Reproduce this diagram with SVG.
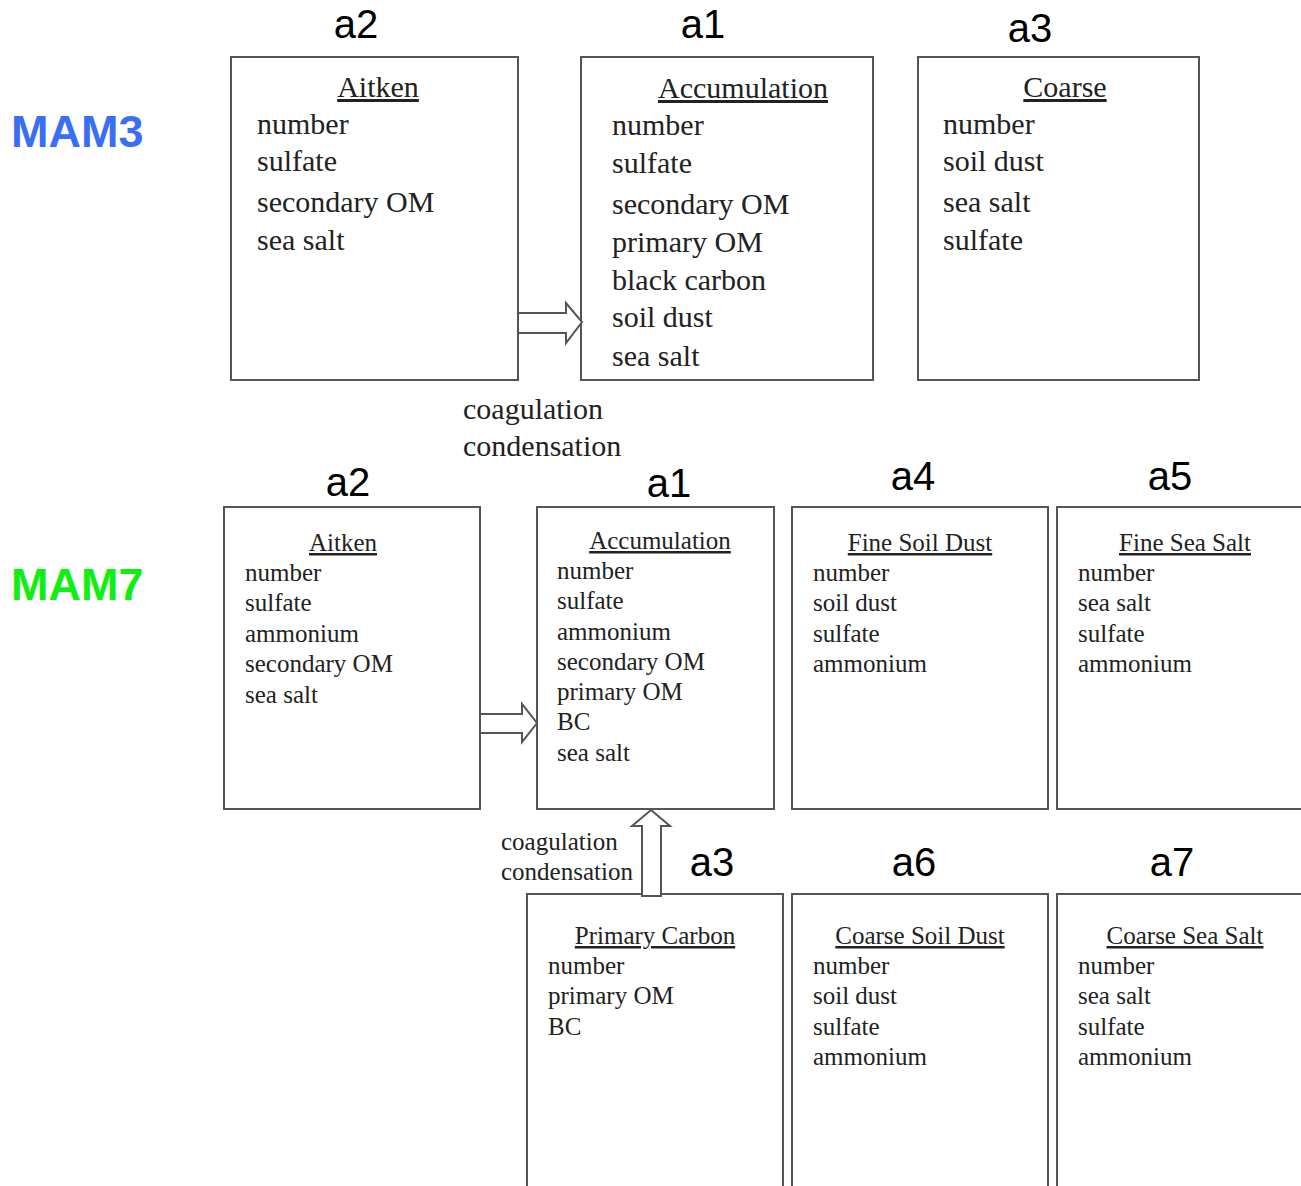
<svg xmlns="http://www.w3.org/2000/svg" width="1301" height="1186" viewBox="0 0 1301 1186">
<style>
.box{fill:#fff;stroke:#555;stroke-width:2}
.arr{fill:#fff;stroke:#555;stroke-width:2;stroke-linejoin:miter}
.lab{font-family:"Liberation Sans",Arial,sans-serif;font-size:40px;fill:#000;text-anchor:middle}
.t3{font-family:"Liberation Serif","Times New Roman",serif;font-size:30px;fill:#222}
.t7{font-family:"Liberation Serif","Times New Roman",serif;font-size:25px;fill:#222}
.ttl{text-anchor:middle;text-decoration:underline}
.mam{font-family:"Liberation Sans",Arial,sans-serif;font-size:45px;font-weight:bold}
</style>
<rect width="1301" height="1186" fill="#fff"/>
<text class="mam" x="11" y="147" fill="#3a6ff5">MAM3</text>
<text class="mam" x="11" y="600" fill="#11ee11">MAM7</text>

<g id="m3-aitken">
<text class="lab" x="356" y="38">a2</text>
<rect class="box" x="231" y="57" width="287" height="323"/>
<text class="t3 ttl" x="378" y="97">Aitken</text>
<text class="t3" x="257" y="134">number</text>
<text class="t3" x="257" y="171">sulfate</text>
<text class="t3" x="257" y="212">secondary OM</text>
<text class="t3" x="257" y="250">sea salt</text>
</g>
<g id="m3-accum">
<text class="lab" x="703" y="38">a1</text>
<rect class="box" x="581" y="57" width="292" height="323"/>
<text class="t3 ttl" x="743" y="98">Accumulation</text>
<text class="t3" x="612" y="135">number</text>
<text class="t3" x="612" y="173">sulfate</text>
<text class="t3" x="612" y="214">secondary OM</text>
<text class="t3" x="612" y="252">primary OM</text>
<text class="t3" x="612" y="290">black carbon</text>
<text class="t3" x="612" y="327">soil dust</text>
<text class="t3" x="612" y="366">sea salt</text>
</g>
<g id="m3-coarse">
<text class="lab" x="1030" y="42">a3</text>
<rect class="box" x="918" y="57" width="281" height="323"/>
<text class="t3 ttl" x="1065" y="97">Coarse</text>
<text class="t3" x="943" y="134">number</text>
<text class="t3" x="943" y="171">soil dust</text>
<text class="t3" x="943" y="212">sea salt</text>
<text class="t3" x="943" y="250">sulfate</text>
</g>

<g id="m7-aitken">
<text class="lab" x="348" y="496">a2</text>
<rect class="box" x="224" y="507" width="256" height="302"/>
<text class="t7 ttl" x="343" y="551">Aitken</text>
<text class="t7" x="245" y="581">number</text>
<text class="t7" x="245" y="611">sulfate</text>
<text class="t7" x="245" y="642">ammonium</text>
<text class="t7" x="245" y="672">secondary OM</text>
<text class="t7" x="245" y="703">sea salt</text>
</g>
<g id="m7-accum">
<text class="lab" x="669" y="497">a1</text>
<rect class="box" x="537" y="507" width="237" height="302"/>
<text class="t7 ttl" x="660" y="549">Accumulation</text>
<text class="t7" x="557" y="579">number</text>
<text class="t7" x="557" y="609">sulfate</text>
<text class="t7" x="557" y="640">ammonium</text>
<text class="t7" x="557" y="670">secondary OM</text>
<text class="t7" x="557" y="700">primary OM</text>
<text class="t7" x="557" y="730">BC</text>
<text class="t7" x="557" y="761">sea salt</text>
</g>
<g id="m7-finesoil">
<text class="lab" x="913" y="490">a4</text>
<rect class="box" x="792" y="507" width="256" height="302"/>
<text class="t7 ttl" x="920" y="551">Fine Soil Dust</text>
<text class="t7" x="813" y="581">number</text>
<text class="t7" x="813" y="611">soil dust</text>
<text class="t7" x="813" y="642">sulfate</text>
<text class="t7" x="813" y="672">ammonium</text>
</g>
<g id="m7-finesalt">
<text class="lab" x="1170" y="490">a5</text>
<rect class="box" x="1057" y="507" width="260" height="302"/>
<text class="t7 ttl" x="1185" y="551">Fine Sea Salt</text>
<text class="t7" x="1078" y="581">number</text>
<text class="t7" x="1078" y="611">sea salt</text>
<text class="t7" x="1078" y="642">sulfate</text>
<text class="t7" x="1078" y="672">ammonium</text>
</g>
<g id="m7-primcarbon">
<text class="lab" x="712" y="876">a3</text>
<rect class="box" x="527" y="894" width="256" height="310"/>
<text class="t7 ttl" x="655" y="944">Primary Carbon</text>
<text class="t7" x="548" y="974">number</text>
<text class="t7" x="548" y="1004">primary OM</text>
<text class="t7" x="548" y="1035">BC</text>
</g>
<g id="m7-coarsesoil">
<text class="lab" x="914" y="876">a6</text>
<rect class="box" x="792" y="894" width="256" height="310"/>
<text class="t7 ttl" x="920" y="944">Coarse Soil Dust</text>
<text class="t7" x="813" y="974">number</text>
<text class="t7" x="813" y="1004">soil dust</text>
<text class="t7" x="813" y="1035">sulfate</text>
<text class="t7" x="813" y="1065">ammonium</text>
</g>
<g id="m7-coarsesalt">
<text class="lab" x="1172" y="876">a7</text>
<rect class="box" x="1057" y="894" width="260" height="310"/>
<text class="t7 ttl" x="1185" y="944">Coarse Sea Salt</text>
<text class="t7" x="1078" y="974">number</text>
<text class="t7" x="1078" y="1004">sea salt</text>
<text class="t7" x="1078" y="1035">sulfate</text>
<text class="t7" x="1078" y="1065">ammonium</text>
</g>

<g id="connectors">
<polygon class="arr" points="518,313 566,313 566,303 582,322 566,343 566,333 518,333"/>
<text class="t3" x="463" y="419">coagulation</text>
<text class="t3" x="463" y="456">condensation</text>
<polygon class="arr" points="480,714 522,714 522,704 537,723 522,742 522,733 480,733"/>
<polygon class="arr" points="642,896 642,826 632,826 651,810 670,826 661,826 661,896"/>
<text class="t7" x="501" y="850">coagulation</text>
<text class="t7" x="501" y="880">condensation</text>
</g>
</svg>
